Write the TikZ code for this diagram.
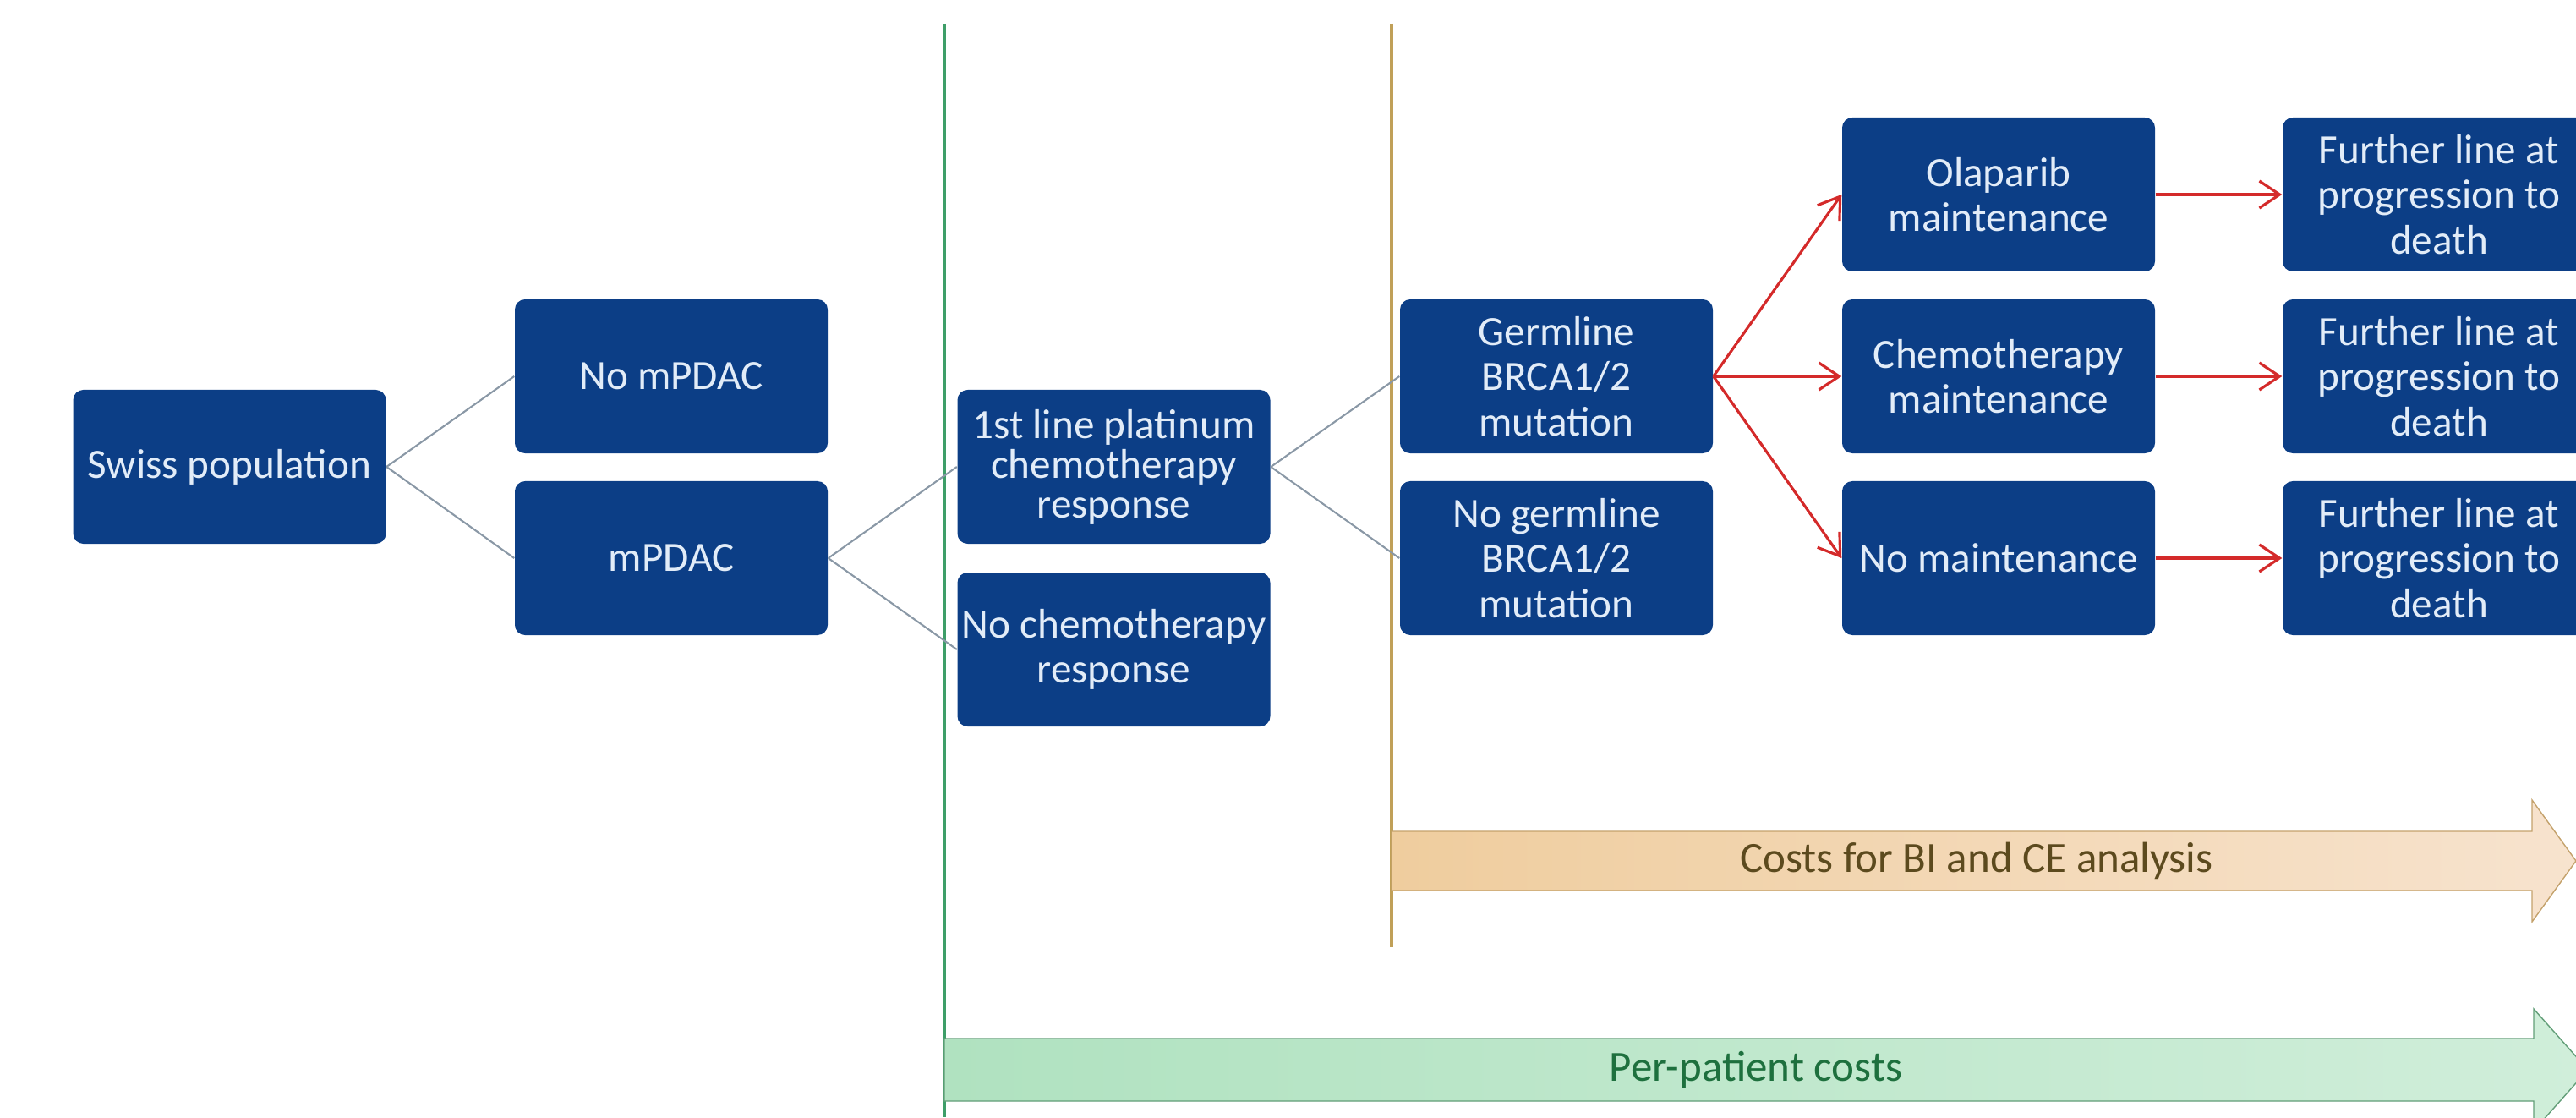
\documentclass[tikz,border=0pt]{standalone}
\usepackage{fontspec}
\setmainfont{Carlito}
\usetikzlibrary{arrows.meta}

\definecolor{boxblue}{RGB}{12,62,134}
\definecolor{boxtext}{RGB}{226,236,248}
\definecolor{treegray}{RGB}{138,152,166}
\definecolor{arrred}{RGB}{212,42,42}
\definecolor{linegreen}{RGB}{62,158,104}
\definecolor{linegold}{RGB}{192,160,88}
\definecolor{goldfill}{RGB}{239,205,158}
\definecolor{goldfillb}{RGB}{247,227,206}
\definecolor{golddraw}{RGB}{196,162,108}
\definecolor{goldtext}{RGB}{92,74,30}
\definecolor{greenfill}{RGB}{176,226,192}
\definecolor{greenfillb}{RGB}{208,238,218}
\definecolor{greendraw}{RGB}{98,158,120}
\definecolor{greentext}{RGB}{30,112,62}

\tikzset{
    stagebox/.style={fill=boxblue, rounded corners=1.2mm, minimum width=3.7cm, minimum height=1.82cm,
        inner sep=0.5mm, text=boxtext, align=center, font=\fontsize{14}{15.2}\selectfont},
    branch/.style={treegray, line width=0.6pt},
    pick/.style={arrred, line width=0.9pt, -{Straight Barb[length=2.4mm,width=3.2mm]}},
    band/.style={font=\fontsize{14.5}{16}\selectfont}
}

\begin{document}
\begin{tikzpicture}
        \useasboundingbox (0,0) rectangle (30.47,13.21);
        \clip (0,0) rectangle (30.47,13.21);

        \draw[linegreen, line width=0.9pt] (11.17,12.93) -- (11.17,0);
        \draw[linegold, line width=0.9pt] (16.46,12.93) -- (16.46,2.01);

        \draw[golddraw, left color=goldfill, right color=goldfillb] (16.46,2.68) -- (29.95,2.68) -- (29.95,2.31)
            -- (30.47,3.03) -- (29.95,3.75) -- (29.95,3.38) -- (16.46,3.38) -- cycle;
        \node[band, text=goldtext] (costs) at (23.38,3.03) {Costs for BI and CE analysis};

        \draw[greendraw, left color=greenfill, right color=greenfillb] (11.17,0.19) -- (29.97,0.19) -- (29.97,-0.16)
            -- (30.61,0.56) -- (29.97,1.28) -- (29.97,0.93) -- (11.17,0.93) -- cycle;
        \node[band, text=greentext] (perpatient) at (20.77,0.56) {Per-patient costs};

        \node[stagebox] (swiss) at (2.715,7.69) {Swiss population};
        \node[stagebox] (nompdac) at (7.94,8.76) {No mPDAC};
        \node[stagebox] (mpdac) at (7.94,6.61) {mPDAC};
        \node[stagebox, font=\fontsize{14}{13.4}\selectfont] (firstline) at (13.175,7.69) {1st line platinum\\chemotherapy\\response};
        \node[stagebox] (nochemo) at (13.175,5.53) {No chemotherapy\\response};
        \node[stagebox] (germ) at (18.41,8.76) {Germline\\BRCA1/2\\mutation};
        \node[stagebox] (nogerm) at (18.41,6.61) {No germline\\BRCA1/2\\mutation};
        \node[stagebox] (olap) at (23.64,10.91) {Olaparib\\maintenance};
        \node[stagebox] (chemomaint) at (23.64,8.76) {Chemotherapy\\maintenance};
        \node[stagebox] (nomaint) at (23.64,6.61) {No maintenance};
        \foreach \y/\n in {10.91/1, 8.76/2, 6.61/3}
            \node[stagebox] (further\n) at (28.85,\y) {Further line at\\progression to\\death};

        \foreach \a/\b in {swiss/nompdac, swiss/mpdac, mpdac/firstline, mpdac/nochemo, firstline/germ, firstline/nogerm}
            \draw[branch] (\a.east) -- (\b.west);
        \foreach \b in {olap, chemomaint, nomaint}
            \draw[pick] (germ.east) -- (\b.west);
        \foreach \a/\n in {olap/1, chemomaint/2, nomaint/3}
            \draw[pick] (\a.east) -- (further\n.west);
\end{tikzpicture}
\end{document}
